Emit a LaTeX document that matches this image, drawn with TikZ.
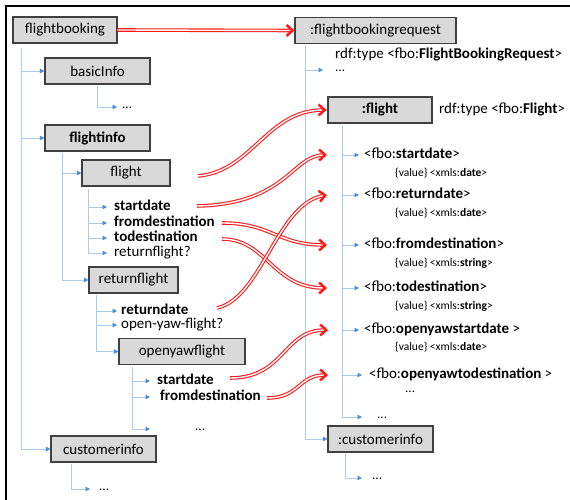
\documentclass[tikz,border=0pt]{standalone}
\usepackage{fontspec}
\setmainfont{Carlito}
\usetikzlibrary{arrows.meta,calc}
\definecolor{boxfill}{HTML}{D9D9D9}
\definecolor{boxline}{HTML}{404040}
\definecolor{treeline}{HTML}{A9CBEC}
\definecolor{treetip}{HTML}{4A8FD8}
\definecolor{linkred}{HTML}{FF1A1A}
\begin{document}
\begin{tikzpicture}[x=1pt,y=-1pt,
  box/.style={draw=boxline, fill=boxfill, line width=1.1pt, inner sep=0pt,
    minimum height=26pt, font=\fontsize{15}{17}\selectfont},
  leaf/.style={anchor=west, inner sep=0pt, font=\fontsize{15}{17}\selectfont,
    text height=9.5pt, text depth=2.5pt},
  valuetext/.style={anchor=west, inner sep=0pt, font=\fontsize{11.5}{13}\selectfont},
  dots/.style={anchor=west, inner sep=0pt, font=\fontsize{13}{15}\selectfont,
    text height=3pt, text depth=0pt},
  branch/.style={draw=treeline, line width=0.8pt,
    -{Triangle[length=4.5pt,width=4.5pt,color=treetip]}},
  link/.style={draw=linkred, double=white, double distance=1.4pt, line width=1.1pt,
    -{Straight Barb[length=6pt,width=11pt,line width=2.5pt]}}]
\useasboundingbox (0,0) rectangle (570,500);

% frame
\draw[black, line width=2pt] (570,6) -- (6,6) -- (6,500);

% ---------- source tree ----------
\node[box, minimum width=104pt] (fb) at (65,30) {flightbooking};
\node[box, minimum width=105pt] (basic) at (97.5,71) {basicInfo};
\node[box, minimum width=105pt, font=\fontsize{15}{17}\selectfont\bfseries] (finfo) at (97.5,138) {flightinfo};
\node[box, minimum width=88pt] (flight) at (126,173) {flight};
\node[box, minimum width=89pt] (rflight) at (133.5,280) {returnflight};
\node[box, minimum width=126pt] (oyflight) at (182,351.5) {openyawflight};
\node[box, minimum width=105pt] (cinfo) at (103.5,449) {customerinfo};

\node[dots] (bdots) at (122,107) {...};
\node[leaf] (sd1) at (114,207) {\textbf{startdate}};
\node[leaf] (fd1) at (114,223) {\textbf{fromdestination}};
\node[leaf] (td1) at (114,238) {\textbf{todestination}};
\node[leaf] (rfq) at (114,253) {returnflight?};
\node[leaf] (rd) at (121,311) {\textbf{returndate}};
\node[leaf] (oyq) at (121,325) {open-yaw-flight?};
\node[leaf] (sd2) at (157,381) {\textbf{startdate}};
\node[leaf] (fd2) at (160,397) {\textbf{fromdestination}};
\node[dots] (odots) at (195,429) {...};
\node[dots] (cdots) at (99,489) {...};

\draw[branch] ([xshift=9pt,yshift=-4pt]fb.south west) |- (basic.west);
\draw[branch] ([xshift=9pt,yshift=-4pt]fb.south west) |- (finfo.west);
\draw[branch] ([xshift=9pt,yshift=-4pt]fb.south west) |- (cinfo.west);
\draw[branch] ([xshift=53pt,yshift=-1pt]basic.south west) |- ([xshift=-5pt]bdots.west);
\draw[branch] ([xshift=18pt,yshift=-1pt]finfo.south west) |- (flight.west);
\draw[branch] ([xshift=18pt,yshift=-1pt]finfo.south west) |- (rflight.west);
\draw[branch] ([xshift=7pt,yshift=-2pt]flight.south west) |- ([xshift=-7pt]sd1.west);
\draw[branch] ([xshift=7pt,yshift=-2pt]flight.south west) |- ([xshift=-7pt]fd1.west);
\draw[branch] ([xshift=7pt,yshift=-2pt]flight.south west) |- ([xshift=-7pt]td1.west);
\draw[branch] ([xshift=7pt,yshift=-2pt]flight.south west) |- ([xshift=-7pt]rfq.west);
\draw[branch] ([xshift=8pt,yshift=-1pt]rflight.south west) |- ([xshift=-4pt]rd.west);
\draw[branch] ([xshift=8pt,yshift=-1pt]rflight.south west) |- ([xshift=-4pt]oyq.west);
\draw[branch] ([xshift=8pt,yshift=-1pt]rflight.south west) |- (oyflight.west);
\draw[branch] ([xshift=14pt,yshift=-2pt]oyflight.south west) |- ([xshift=-7pt]sd2.west);
\draw[branch] ([xshift=14pt,yshift=-2pt]oyflight.south west) |- ([xshift=-10pt]fd2.west);
\draw[branch] ([xshift=14pt,yshift=-2pt]oyflight.south west) |- ([xshift=-45pt]odots.west);
\draw[branch] ([xshift=21pt,yshift=-1pt]cinfo.south west) |- ([xshift=-9pt]cdots.west);

% ---------- target graph ----------
\node[box, minimum width=161pt] (fbr) at (375.5,30.5) {:flightbookingrequest};
\node[box, minimum width=104pt, font=\fontsize{15}{17}\selectfont\bfseries] (rfl) at (380,110) {:flight};
\node[box, minimum width=105pt] (rcust) at (380.5,439) {:customerinfo};

\node[leaf] (rdf1) at (335,55) {rdf:type <fbo:\textbf{FlightBookingRequest}>};
\node[dots] (fdots) at (335,70) {...};
\node[leaf] (rdf2) at (439,110) {rdf:type <fbo:\textbf{Flight}>};

\node[leaf] (rsd) at (364,155) {<fbo:\textbf{startdate}>};
\node[valuetext] (rsdv) at (395,173) {\{value\} <xmls:\textbf{date}>};
\node[leaf] (rrd) at (364,195) {<fbo:\textbf{returndate}>};
\node[valuetext] (rrdv) at (395,213) {\{value\} <xmls:\textbf{date}>};
\node[leaf] (rfd) at (364,245) {<fbo:\textbf{fromdestination}>};
\node[valuetext] (rfdv) at (395,263) {\{value\} <xmls:\textbf{string}>};
\node[leaf] (rtd) at (364,288) {<fbo:\textbf{todestination}>};
\node[valuetext] (rtdv) at (395,306) {\{value\} <xmls:\textbf{string}>};
\node[leaf] (roys) at (364,330) {<fbo:\textbf{openyawstartdate} >};
\node[valuetext] (roysv) at (395,347) {\{value\} <xmls:\textbf{date}>};
\node[leaf] (royt) at (369,375) {<fbo:\textbf{openyawtodestination} >};
\node[dots] (roytd) at (405,391) {...};
\node[dots] (rdots) at (377,417) {...};
\node[dots] (rcdots) at (372,478) {...};

\draw[branch] ([xshift=11pt,yshift=-2pt]fbr.south west) |- ([xshift=-12pt]fdots.west);
\draw[branch] ([xshift=11pt,yshift=-2pt]fbr.south west) |- (rfl.west);
\draw[branch] ([xshift=11pt,yshift=-2pt]fbr.south west) |- (rcust.west);
\draw[branch] ([xshift=15pt,yshift=-2pt]rfl.south west) |- ([xshift=-5pt]rsd.west);
\draw[branch] ([xshift=15pt,yshift=-2pt]rfl.south west) |- ([xshift=-5pt]rrd.west);
\draw[branch] ([xshift=15pt,yshift=-2pt]rfl.south west) |- ([xshift=-5pt]rfd.west);
\draw[branch] ([xshift=15pt,yshift=-2pt]rfl.south west) |- ([xshift=-5pt]rtd.west);
\draw[branch] ([xshift=15pt,yshift=-2pt]rfl.south west) |- ([xshift=-5pt]roys.west);
\draw[branch] ([xshift=15pt,yshift=-2pt]rfl.south west) |- ([xshift=-7pt]royt.west);
\draw[branch] ([xshift=15pt,yshift=-2pt]rfl.south west) |- ([xshift=-15pt]rdots.west);
\draw[branch] ([xshift=18pt,yshift=-1pt]rcust.south west) |- ([xshift=-10pt]rcdots.west);

% ---------- mappings ----------
\coordinate (s2) at (198,176);
\coordinate (s3) at (197,206);
\coordinate (s4) at (222,223);
\coordinate (s5) at (222,239);
\coordinate (s6) at (217,308);
\coordinate (s7) at (230,378);
\coordinate (s8) at (267,398);

\draw[link] (fb.east) -- (fbr.west);
\draw[link] (s2) .. controls +(55,-5) and +(-60,0) .. ([xshift=-1pt]rfl.west);
\draw[link] (s3) .. controls +(90,-2) and +(-35,0) .. ([xshift=-37pt]rsd.west);
\draw[link] (s4) .. controls +(50,0) and +(-50,0) .. ([xshift=-37pt]rfd.west);
\draw[link] (s5) .. controls +(45,0) and +(-55,0) .. ([xshift=-37pt]rtd.west);
\draw[link] (s6) .. controls +(45,-10) and +(-50,8) .. ([xshift=-37pt]rrd.west);
\draw[link] (s7) .. controls +(55,0) and +(-45,0) .. ([xshift=-36pt]roys.west);
\draw[link] (s8) .. controls +(33,0) and +(-30,0) .. ([xshift=-41pt]royt.west);
\end{tikzpicture}
\end{document}
